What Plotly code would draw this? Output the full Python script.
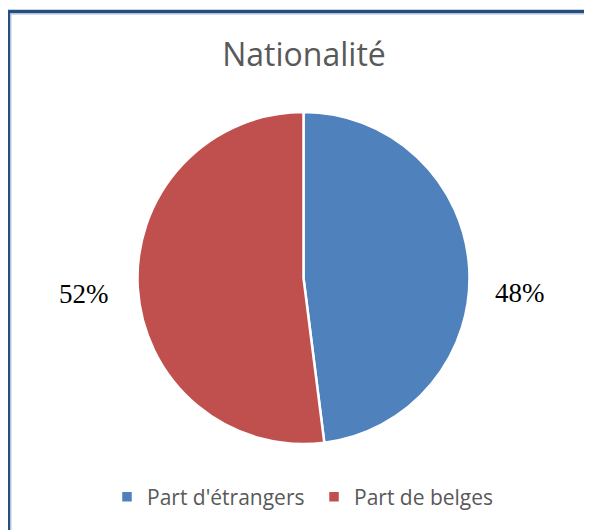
import plotly.graph_objects as go

labels = ["Part d'étrangers", "Part de belges"]
values = [48, 52]
colors = ["#4F81BD", "#C0504D"]
title = "Nationalité"

# page body has an 8px margin; figure drawn at (8, 8)
OFF = 8
W, H = 584, 522


def px(x):
    return (x - OFF) / W


def py(y):
    return 1 - (y - OFF) / H


fig = go.Figure()
fig.add_trace(go.Pie(
    labels=labels,
    values=values,
    sort=False,
    direction="clockwise",
    rotation=0,
    textinfo="none",
    hoverinfo="label+percent",
    marker=dict(colors=colors, line=dict(color="white", width=2.5)),
    domain=dict(x=[px(137.5), px(469.5)], y=[py(444), py(112)]),
))

# outside percentage labels
label_pos = [(520, 293), (84, 294)]
for v, (lx, ly) in zip(values, label_pos):
    fig.add_annotation(
        x=px(lx), y=py(ly), xref="paper", yref="paper",
        text=f"{v}%", showarrow=False,
        font=dict(family="Liberation Serif", size=27, color="#000000"),
        xanchor="center", yanchor="middle",
    )

# frame
fig.add_shape(type="rect", xref="paper", yref="paper",
              x0=px(8.5), x1=1.1, y0=-0.1, y1=py(11.5),
              line=dict(color="#24507F", width=3.5))
fig.add_shape(type="rect", xref="paper", yref="paper",
              x0=px(10.8), x1=1.1, y0=-0.1, y1=py(13.8),
              line=dict(color="#A8BEDA", width=1.2))

fig.update_layout(
    width=W, height=H,
    margin=dict(l=0, r=0, t=0, b=0),
    paper_bgcolor="white",
    plot_bgcolor="white",
    title=dict(text=title, x=px(304), xanchor="center", y=py(55), yanchor="middle",
               font=dict(family="Open Sans", size=32, color="#595959")),
    legend=dict(orientation="h", x=px(314), xanchor="center", y=py(497), yanchor="middle",
                font=dict(family="Open Sans", size=21, color="#595959"),
                itemwidth=30, tracegroupgap=0, entrywidth=162, entrywidthmode="pixels"),
    showlegend=True,
)

fig.write_html("out.html")
